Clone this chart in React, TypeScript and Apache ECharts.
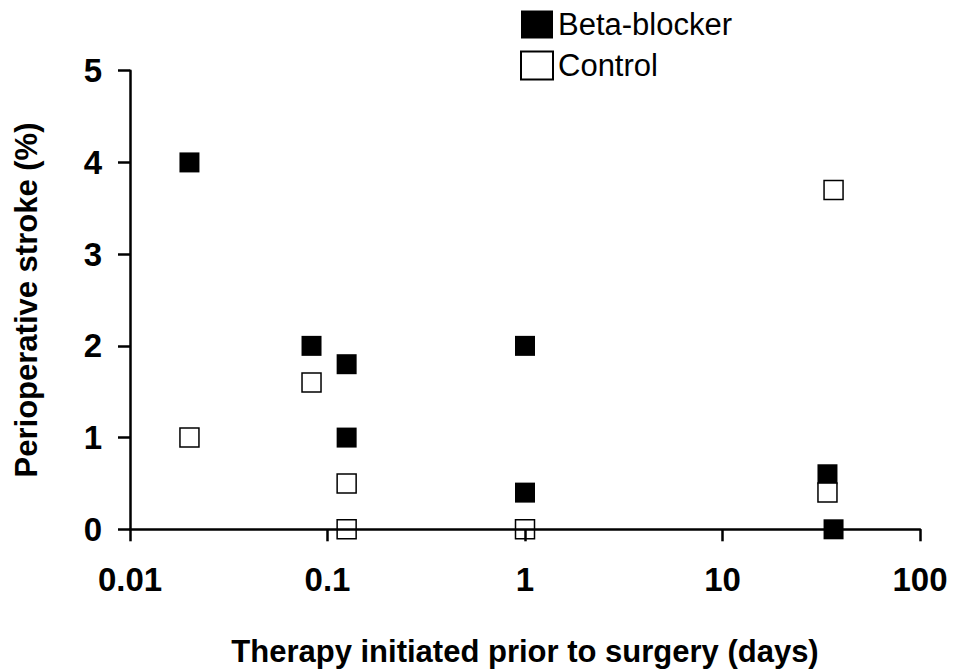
import React, { useEffect, useRef } from "react";
import * as echarts from "echarts";

const betaX = [0.02, 0.083, 0.125, 0.125, 1, 1, 34, 36.5];
const betaY = [4.0, 2.0, 1.8, 1.0, 2.0, 0.4, 0.6, 0];
const controlX = [0.02, 0.083, 0.125, 0.125, 1, 34, 36.5];
const controlY = [1.0, 1.6, 0.5, 0, 0, 0.4, 3.7];
const xTicks = [0.01, 0.1, 1, 10, 100];
const yTicks = [0, 1, 2, 3, 4, 5];

const FONT = "'Liberation Sans', Arial, Helvetica, sans-serif";

export default function App() {
  const ref = useRef<HTMLDivElement>(null);
  useEffect(() => {
    if (!ref.current) return;
    const chart = echarts.init(ref.current, null, { renderer: "svg" });
    const axisLine = { show: true, lineStyle: { color: "#000", width: 2.5 } };
    chart.setOption({
      animation: false,
      backgroundColor: "#fff",
      textStyle: { fontFamily: FONT },
      legend: {
        orient: "vertical",
        left: 515,
        top: 4,
        itemWidth: 32,
        itemHeight: 28,
        itemGap: 10,
        icon: "rect",
        symbolKeepAspect: false,
        textStyle: { fontFamily: FONT, fontSize: 31, color: "#000" },
        data: ["Beta-blocker", "Control"],
      },
      grid: {
        left: 130,
        right: 37,
        top: 70.7,
        bottom: 139.7,
        containLabel: false,
        outerBoundsMode: "none",
      },
      xAxis: {
        type: "log",
        logBase: 10,
        min: xTicks[0],
        max: xTicks[xTicks.length - 1],
        z: 5,
        name: "Therapy initiated prior to surgery (days)",
        nameLocation: "middle",
        nameGap: 107,
        nameTextStyle: { fontFamily: FONT, fontSize: 31, fontWeight: "bold", color: "#000" },
        axisLine,
        axisTick: { show: true, length: 12, lineStyle: { color: "#000", width: 2.5 } },
        minorTick: { show: false },
        splitLine: { show: false },
        axisLabel: {
          margin: 34,
          fontFamily: FONT,
          fontSize: 33,
          fontWeight: "bold",
          color: "#000",
          formatter: (v: number) => {
            const m = xTicks.find((t) => Math.abs(Math.log10(t) - Math.log10(v)) < 1e-6);
            return m !== undefined ? String(m) : "";
          },
        },
      },
      yAxis: {
        type: "value",
        min: yTicks[0],
        max: yTicks[yTicks.length - 1],
        interval: 1,
        z: 5,
        name: "Perioperative stroke (%)",
        nameLocation: "middle",
        nameGap: 88,
        nameTextStyle: { fontFamily: FONT, fontSize: 31, fontWeight: "bold", color: "#000" },
        axisLine,
        axisTick: { show: true, length: 12, lineStyle: { color: "#000", width: 2.5 } },
        splitLine: { show: false },
        axisLabel: {
          margin: 28,
          fontFamily: FONT,
          fontSize: 33,
          fontWeight: "bold",
          color: "#000",
        },
      },
      series: [
        {
          name: "Beta-blocker",
          type: "scatter",
          symbol: "rect",
          symbolSize: 20,
          itemStyle: { color: "#000", borderColor: "#000", borderWidth: 0, opacity: 1 },
          data: betaX.map((x, i) => [x, betaY[i]]),
        },
        {
          name: "Control",
          type: "scatter",
          symbol: "rect",
          symbolSize: 19,
          itemStyle: { color: "#fff", borderColor: "#000", borderWidth: 1.5, opacity: 1 },
          data: controlX.map((x, i) => [x, controlY[i]]),
        },
      ],
    });
    return () => chart.dispose();
  }, []);
  return (
    <div
      ref={ref}
      style={{ position: "fixed", left: 0, top: 0, width: 957, height: 669 }}
    />
  );
}
